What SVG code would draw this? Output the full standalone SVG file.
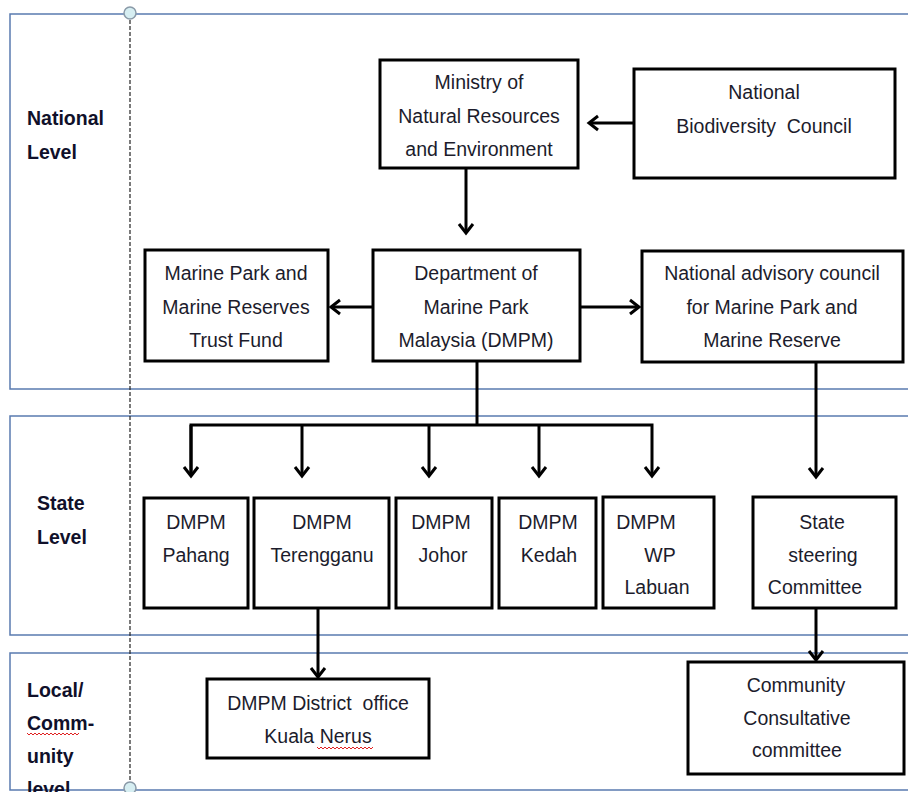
<svg xmlns="http://www.w3.org/2000/svg" width="908" height="792" viewBox="0 0 908 792">
<style>
.panel{fill:none;stroke:#5a7bb0;stroke-width:1.5}
.box{fill:#fff;stroke:#000;stroke-width:3}
.t{font-family:"Liberation Sans",Arial,sans-serif;font-size:19.5px;fill:#1c1c2c;text-anchor:middle}
.lvl{font-family:"Liberation Sans",Arial,sans-serif;font-size:19.5px;font-weight:bold;fill:#10102a}
.c{fill:none;stroke:#000;stroke-width:3}
.sq{fill:none;stroke:#e02020;stroke-width:1}
</style>
<defs>
<marker id="ah" markerUnits="userSpaceOnUse" markerWidth="20" markerHeight="20" viewBox="-12 -10 14 20" refX="0" refY="0" orient="auto">
<path d="M-9,-7 L0,0 L-9,7" fill="none" stroke="#000" stroke-width="3"/>
</marker>
</defs>
<rect width="908" height="792" fill="#fff"/>
<g id="panels">
<path class="panel" d="M912,14 H10 V389 H912"/>
<path class="panel" d="M912,416 H10 V635 H912"/>
<path class="panel" d="M912,653 H10 V790 H912"/>
<line x1="130" y1="14" x2="130" y2="787" stroke="#222" stroke-width="1.2" stroke-dasharray="4,2"/>
<circle cx="130" cy="13" r="6" fill="#d6eef2" stroke="#8a9aa8" stroke-width="1.5"/>
<circle cx="130" cy="788" r="6" fill="#d6eef2" stroke="#8a9aa8" stroke-width="1.5"/>
</g>
<g id="levels">
<text class="lvl" x="27" y="125">National</text>
<text class="lvl" x="27" y="159">Level</text>
<text class="lvl" x="37" y="510">State</text>
<text class="lvl" x="37" y="544">Level</text>
<text class="lvl" x="27" y="697">Local/</text>
<text class="lvl" x="27" y="730">Comm-</text>
<text class="lvl" x="27" y="763">unity</text>
<text class="lvl" x="27" y="796">level</text>
<path class="sq" d="M27,733 l2,2 l2,-2 l2,2 l2,-2 l2,2 l2,-2 l2,2 l2,-2 l2,2 l2,-2 l2,2 l2,-2 l2,2 l2,-2 l2,2 l2,-2 l2,2 l2,-2 l2,2 l2,-2 l2,2 l2,-2 l2,2 l2,-2 l2,2 l2,-2"/>
</g>
<g id="connectors">
<line class="c" x1="634" y1="123" x2="589" y2="123" marker-end="url(#ah)"/>
<line class="c" x1="466" y1="168" x2="466" y2="233" marker-end="url(#ah)"/>
<line class="c" x1="373" y1="307" x2="331" y2="307" marker-end="url(#ah)"/>
<line class="c" x1="580" y1="307" x2="639" y2="307" marker-end="url(#ah)"/>
<path class="c" d="M477,361 V425"/>
<path class="c" d="M191,476 V425 H652 V476" marker-end="url(#ah)"/>
<line class="c" x1="191" y1="425" x2="191" y2="476" marker-end="url(#ah)"/>
<line class="c" x1="302" y1="425" x2="302" y2="476" marker-end="url(#ah)"/>
<line class="c" x1="429" y1="425" x2="429" y2="476" marker-end="url(#ah)"/>
<line class="c" x1="539" y1="425" x2="539" y2="476" marker-end="url(#ah)"/>
<line class="c" x1="816" y1="362" x2="816" y2="477" marker-end="url(#ah)"/>
<line class="c" x1="318" y1="608" x2="318" y2="677" marker-end="url(#ah)"/>
<line class="c" x1="816" y1="608" x2="816" y2="660" marker-end="url(#ah)"/>
</g>
<g id="ministry">
<rect class="box" x="380" y="60" width="198" height="108"/>
<text class="t" x="479" y="89">Ministry of</text>
<text class="t" x="479" y="123">Natural Resources</text>
<text class="t" x="479" y="156">and Environment</text>
</g>
<g id="biodiversity">
<rect class="box" x="634" y="69" width="261" height="109"/>
<text class="t" x="764" y="99">National</text>
<text class="t" x="764" y="133" xml:space="preserve">Biodiversity  Council</text>
</g>
<g id="trustfund">
<rect class="box" x="145" y="250" width="183" height="111"/>
<text class="t" x="236" y="280">Marine Park and</text>
<text class="t" x="236" y="314">Marine Reserves</text>
<text class="t" x="236" y="347">Trust Fund</text>
</g>
<g id="dmpm">
<rect class="box" x="373" y="250" width="207" height="111"/>
<text class="t" x="476" y="280">Department of</text>
<text class="t" x="476" y="314">Marine Park</text>
<text class="t" x="476" y="347">Malaysia (DMPM)</text>
</g>
<g id="advisory">
<rect class="box" x="642" y="251" width="261" height="111"/>
<text class="t" x="772" y="280">National advisory council</text>
<text class="t" x="772" y="314">for Marine Park and</text>
<text class="t" x="772" y="347">Marine Reserve</text>
</g>
<g id="pahang">
<rect class="box" x="144" y="498" width="104" height="110"/>
<text class="t" x="196" y="529">DMPM</text>
<text class="t" x="196" y="562">Pahang</text>
</g>
<g id="terengganu">
<rect class="box" x="254" y="498" width="135" height="110"/>
<text class="t" x="322" y="529">DMPM</text>
<text class="t" x="322" y="562">Terengganu</text>
</g>
<g id="johor">
<rect class="box" x="396" y="498" width="96" height="110"/>
<text class="t" x="441" y="529">DMPM</text>
<text class="t" x="443" y="562">Johor</text>
</g>
<g id="kedah">
<rect class="box" x="499" y="498" width="97" height="110"/>
<text class="t" x="548" y="529">DMPM</text>
<text class="t" x="549" y="562">Kedah</text>
</g>
<g id="labuan">
<rect class="box" x="603" y="497" width="111" height="111"/>
<text class="t" x="646" y="529">DMPM</text>
<text class="t" x="660" y="562">WP</text>
<text class="t" x="657" y="594">Labuan</text>
</g>
<g id="steering">
<rect class="box" x="753" y="497" width="143" height="111"/>
<text class="t" x="822" y="529">State</text>
<text class="t" x="823" y="562">steering</text>
<text class="t" x="815" y="594">Committee</text>
</g>
<g id="district">
<rect class="box" x="207" y="679" width="222" height="79"/>
<text class="t" x="318" y="710" xml:space="preserve">DMPM District  office</text>
<text class="t" x="318" y="743">Kuala Nerus</text>
<path class="sq" d="M317,747 l2,2 l2,-2 l2,2 l2,-2 l2,2 l2,-2 l2,2 l2,-2 l2,2 l2,-2 l2,2 l2,-2 l2,2 l2,-2 l2,2 l2,-2 l2,2 l2,-2 l2,2 l2,-2 l2,2 l2,-2 l2,2 l2,-2 l2,2 l2,-2 l2,2 l2,-2"/>
</g>
<g id="community">
<rect class="box" x="688" y="662" width="216" height="112"/>
<text class="t" x="796" y="692">Community</text>
<text class="t" x="797" y="725">Consultative</text>
<text class="t" x="797" y="757">committee</text>
</g>
</svg>
